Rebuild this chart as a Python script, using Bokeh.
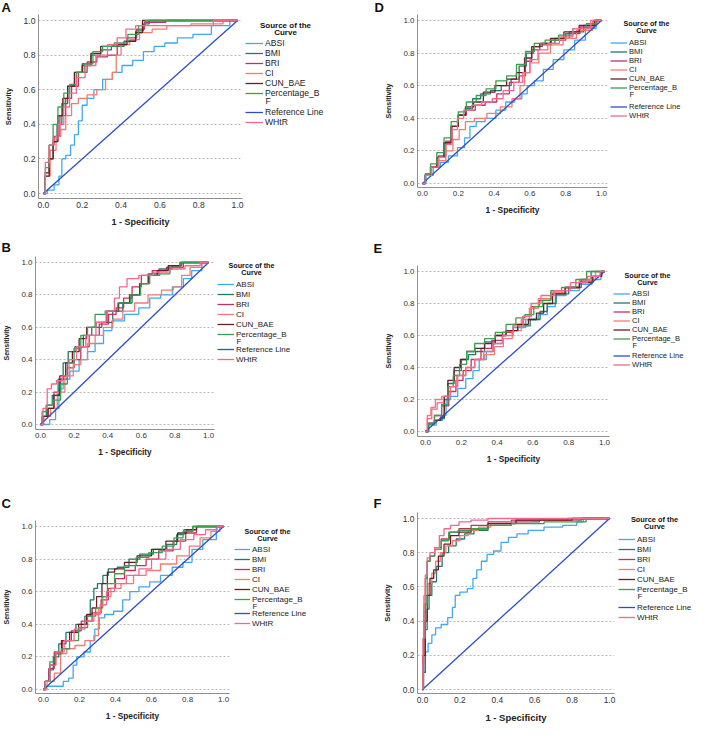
from bokeh.plotting import figure
from bokeh.layouts import row, column
from bokeh.models import Legend, LegendItem, Label, Range1d, FixedTicker, PrintfTickFormatter
from bokeh.core.properties import value
from bokeh.embed import file_html
from bokeh.resources import INLINE

FONT = "Liberation Sans"

SERIES = ["ABSI", "BMI", "BRI", "CI", "CUN_BAE", "Percentage_BF", "Reference Line", "WHtR"]
LEGEND_LABELS = ["ABSI", "BMI", "BRI", "CI", "CUN_BAE", "Percentage_B", "Reference Line", "WHtR"]
LEGEND_WRAP = "F"
SERIES_COLORS = ["#42a8f0", "#1f7a6d", "#c3315f", "#f47a72", "#6b1d27", "#3c9f4b", "#2c4fc7", "#f2688f"]
TICKS = [0.0, 0.2, 0.4, 0.6, 0.8, 1.0]
PANEL_LETTERS = ["A", "B", "C", "D", "E", "F"]
X_AXIS_TITLE = "1 - Specificity"
Y_AXIS_TITLE = "Sensitivity"
LEGEND_TITLE = ["Source of the", "Curve"]

REF_FPR = [0.0, 1.0]
REF_TPR = [0.0, 1.0]
# legend swatch renderers live outside the visible range of the legend strip
SWATCH_X = [-2.0, -1.0]
SWATCH_Y = [-2.0, -1.0]

# ---------------- Panel A ----------------
A_ABSI_FPR = [0, .04, .07, .09, .10, .13, .15, .17, .19, .21, .24, .28, .33, .38, .43, .49, .54, .60, .65, .73, .81, .92, 1.0]
A_ABSI_TPR = [0, .02, .05, .10, .20, .22, .28, .34, .42, .51, .55, .60, .66, .70, .74, .77, .82, .85, .87, .90, .92, .97, 1.0]
A_BMI_FPR = [0, .02, .04, .06, .08, .11, .14, .18, .22, .27, .32, .38, .45, .50, .53, .56, 1.0]
A_BMI_TPR = [0, .12, .20, .30, .40, .52, .62, .70, .75, .80, .83, .85, .88, .94, .98, 1.0, 1.0]
A_BRI_FPR = [0, .02, .04, .07, .10, .13, .16, .20, .25, .30, .36, .40, .46, .50, .54, .72, 1.0]
A_BRI_TPR = [0, .12, .28, .33, .45, .55, .62, .70, .76, .79, .80, .86, .90, .95, .99, 1.0, 1.0]
A_CI_FPR = [0, .02, .05, .08, .10, .13, .16, .20, .25, .30, .34, .37, .38, .42, .47, .52, .60, .67, .85, 1.0]
A_CI_TPR = [0, .10, .25, .33, .37, .45, .52, .55, .57, .60, .66, .70, .80, .86, .89, .93, .95, .97, .98, 1.0]
A_CUN_BAE_FPR = [0, .02, .04, .06, .09, .11, .14, .18, .22, .27, .32, .40, .46, .49, .53, 1.0]
A_CUN_BAE_TPR = [0, .10, .20, .30, .45, .55, .62, .70, .74, .81, .85, .86, .88, .93, 1.0, 1.0]
A_PBF_FPR = [0, .02, .04, .06, .09, .12, .15, .19, .23, .28, .33, .40, .47, .51, .54, 1.0]
A_PBF_TPR = [0, .15, .28, .40, .50, .58, .63, .70, .75, .82, .85, .87, .92, .97, 1.0, 1.0]
A_WHTR_FPR = [0, .02, .04, .06, .09, .12, .15, .19, .24, .30, .36, .40, .45, .50, .60, .75, 1.0]
A_WHTR_TPR = [0, .18, .28, .32, .40, .50, .58, .67, .74, .80, .86, .90, .95, .97, .97, .97, 1.0]

# ---------------- Panel B ----------------
B_ABSI_FPR = [0, .03, .08, .10, .12, .15, .20, .26, .30, .35, .40, .45, .55, .62, .68, .75, .82, .88, .92, 1.0]
B_ABSI_TPR = [0, .00, .03, .10, .22, .28, .33, .40, .45, .50, .58, .64, .68, .72, .78, .80, .85, .90, .95, 1.0]
B_BMI_FPR = [0, .02, .05, .09, .12, .15, .18, .23, .28, .33, .40, .46, .52, .57, .62, .66, .75, .82, .86, 1.0]
B_BMI_TPR = [0, .05, .12, .18, .28, .38, .45, .48, .55, .60, .63, .70, .75, .80, .87, .93, .96, .98, 1.0, 1.0]
B_BRI_FPR = [0, .03, .06, .10, .14, .18, .22, .26, .32, .38, .43, .47, .52, .57, .63, .70, .80, .90, 1.0]
B_BRI_TPR = [0, .05, .10, .20, .28, .35, .40, .48, .55, .62, .68, .72, .78, .85, .92, .95, .97, 1.0, 1.0]
B_CI_FPR = [0, .04, .08, .12, .17, .22, .26, .30, .35, .40, .46, .52, .60, .68, .76, .82, .86, .92, 1.0]
B_CI_TPR = [0, .05, .10, .20, .30, .37, .40, .50, .55, .60, .65, .70, .75, .80, .83, .85, .92, .97, 1.0]
B_CUN_BAE_FPR = [0, .03, .06, .10, .13, .17, .21, .25, .30, .36, .43, .50, .56, .62, .67, .72, .80, .86, 1.0]
B_CUN_BAE_TPR = [0, .05, .10, .18, .30, .38, .45, .53, .60, .63, .70, .75, .80, .87, .92, .95, .98, 1.0, 1.0]
B_PBF_FPR = [0, .02, .05, .10, .14, .18, .22, .26, .30, .35, .42, .50, .57, .62, .68, .74, .80, .86, 1.0]
B_PBF_TPR = [0, .08, .12, .15, .25, .38, .47, .55, .60, .68, .70, .75, .80, .87, .92, .93, .97, 1.0, 1.0]
B_WHTR_FPR = [0, .03, .05, .08, .11, .15, .19, .24, .30, .36, .42, .46, .48, .55, .62, .72, .82, .90, 1.0]
B_WHTR_TPR = [0, .10, .22, .25, .27, .30, .40, .48, .55, .63, .70, .78, .85, .90, .92, .94, .96, .98, 1.0]

# ---------------- Panel C ----------------
C_ABSI_FPR = [0, .03, .10, .12, .16, .17, .20, .25, .27, .30, .32, .36, .42, .46, .50, .56, .62, .68, .75, .80, .85, .92, 1.0]
C_ABSI_TPR = [0, .02, .02, .05, .07, .15, .20, .23, .30, .37, .44, .46, .48, .55, .60, .63, .66, .70, .75, .78, .86, .92, 1.0]
C_BMI_FPR = [0, .02, .04, .07, .10, .15, .21, .25, .27, .29, .31, .35, .37, .45, .50, .57, .65, .72, .76, .80, .86, 1.0]
C_BMI_TPR = [0, .05, .12, .20, .28, .35, .40, .45, .55, .62, .65, .70, .74, .75, .80, .83, .86, .89, .95, .98, 1.0, 1.0]
C_BRI_FPR = [0, .02, .04, .08, .13, .18, .24, .30, .34, .38, .42, .48, .54, .60, .68, .76, .82, .88, 1.0]
C_BRI_TPR = [0, .05, .13, .23, .30, .36, .42, .47, .55, .62, .68, .73, .76, .80, .85, .91, .96, 1.0, 1.0]
C_CI_FPR = [0, .04, .08, .11, .15, .20, .26, .30, .31, .35, .40, .46, .54, .60, .70, .78, .84, .90, .96, 1.0]
C_CI_TPR = [0, .05, .10, .22, .25, .27, .30, .33, .50, .57, .62, .65, .70, .73, .77, .82, .88, .93, .97, 1.0]
C_CUN_BAE_FPR = [0, .02, .05, .08, .12, .17, .22, .26, .28, .31, .34, .37, .42, .48, .56, .64, .72, .77, .82, .88, 1.0]
C_CUN_BAE_TPR = [0, .05, .15, .22, .30, .35, .40, .46, .50, .57, .65, .72, .74, .78, .82, .86, .91, .96, .98, 1.0, 1.0]
C_PBF_FPR = [0, .02, .05, .08, .12, .17, .22, .27, .31, .34, .37, .42, .48, .55, .62, .70, .75, .80, .86, 1.0]
C_PBF_TPR = [0, .05, .17, .22, .25, .30, .38, .45, .50, .57, .65, .71, .76, .81, .84, .88, .93, .97, 1.0, 1.0]
C_WHTR_FPR = [0, .02, .05, .09, .14, .20, .26, .30, .33, .37, .42, .50, .56, .64, .72, .80, .87, .93, 1.0]
C_WHTR_TPR = [0, .05, .15, .23, .30, .37, .42, .46, .52, .60, .65, .70, .74, .80, .86, .92, .95, .98, 1.0]

# ---------------- Panel D ----------------
D_ABSI_FPR = [0, .04, .08, .12, .17, .22, .25, .28, .32, .38, .44, .49, .54, .57, .60, .65, .70, .76, .82, .88, .94, 1.0]
D_ABSI_TPR = [0, .05, .10, .13, .17, .22, .28, .35, .38, .40, .45, .50, .52, .55, .60, .63, .70, .76, .82, .88, .95, 1.0]
D_BMI_FPR = [0, .03, .06, .10, .14, .18, .22, .26, .30, .35, .41, .47, .52, .56, .60, .64, .70, .78, .86, .94, 1.0]
D_BMI_TPR = [0, .05, .10, .16, .25, .35, .42, .46, .52, .55, .57, .60, .64, .72, .80, .84, .86, .89, .93, .97, 1.0]
D_BRI_FPR = [0, .03, .07, .11, .15, .18, .22, .27, .32, .38, .45, .52, .56, .59, .63, .68, .76, .84, .92, 1.0]
D_BRI_TPR = [0, .05, .10, .17, .26, .35, .42, .45, .48, .50, .55, .62, .66, .75, .82, .85, .88, .92, .96, 1.0]
D_CI_FPR = [0, .03, .07, .11, .15, .19, .22, .26, .32, .40, .47, .53, .56, .58, .62, .68, .75, .82, .90, 1.0]
D_CI_TPR = [0, .05, .10, .14, .20, .27, .33, .38, .40, .43, .47, .52, .60, .68, .74, .80, .85, .89, .94, 1.0]
D_CUN_BAE_FPR = [0, .03, .06, .10, .14, .18, .22, .26, .31, .37, .44, .50, .55, .59, .63, .68, .75, .83, .92, 1.0]
D_CUN_BAE_TPR = [0, .05, .10, .16, .25, .35, .42, .47, .50, .56, .60, .64, .68, .77, .84, .86, .89, .93, .97, 1.0]
D_PBF_FPR = [0, .03, .06, .10, .14, .18, .22, .27, .33, .38, .44, .50, .55, .60, .65, .72, .80, .88, .95, 1.0]
D_PBF_TPR = [0, .06, .12, .19, .28, .38, .44, .50, .54, .58, .63, .66, .73, .81, .86, .88, .91, .95, .98, 1.0]
D_WHTR_FPR = [0, .03, .07, .11, .15, .18, .21, .25, .30, .36, .42, .48, .54, .58, .62, .67, .73, .80, .88, 1.0]
D_WHTR_TPR = [0, .05, .10, .16, .24, .33, .40, .45, .48, .50, .52, .57, .62, .68, .76, .82, .86, .90, .95, 1.0]

# ---------------- Panel E ----------------
E_ABSI_FPR = [0, .04, .08, .11, .12, .16, .20, .25, .28, .32, .36, .40, .46, .52, .60, .66, .70, .75, .82, .90, .96, 1.0]
E_ABSI_TPR = [0, .04, .07, .10, .20, .22, .27, .33, .38, .45, .50, .55, .62, .65, .70, .73, .78, .85, .88, .92, .95, 1.0]
E_BMI_FPR = [0, .03, .07, .10, .11, .14, .18, .22, .26, .30, .36, .42, .48, .55, .62, .66, .70, .76, .84, .90, .95, 1.0]
E_BMI_TPR = [0, .05, .07, .08, .20, .30, .38, .45, .48, .50, .56, .60, .63, .66, .70, .75, .80, .86, .90, .95, 1.0, 1.0]
E_BRI_FPR = [0, .03, .07, .11, .15, .19, .23, .28, .34, .40, .46, .52, .57, .61, .66, .74, .82, .90, .96, 1.0]
E_BRI_TPR = [0, .05, .10, .16, .25, .32, .38, .45, .52, .57, .62, .67, .72, .78, .82, .87, .90, .94, .97, 1.0]
E_CI_FPR = [0, .02, .04, .07, .11, .15, .20, .25, .30, .36, .41, .46, .51, .56, .60, .66, .74, .82, .90, 1.0]
E_CI_TPR = [0, .10, .15, .20, .22, .28, .35, .40, .45, .48, .53, .58, .63, .70, .77, .83, .87, .90, .95, 1.0]
E_CUN_BAE_FPR = [0, .03, .07, .10, .11, .14, .18, .21, .25, .30, .36, .42, .48, .55, .60, .64, .68, .74, .82, .90, .97, 1.0]
E_CUN_BAE_TPR = [0, .05, .07, .09, .22, .32, .40, .45, .50, .52, .55, .60, .63, .67, .70, .74, .80, .86, .90, .93, .97, 1.0]
E_PBF_FPR = [0, .03, .07, .11, .14, .17, .21, .25, .30, .36, .42, .48, .53, .58, .63, .68, .72, .80, .88, .92, 1.0]
E_PBF_TPR = [0, .05, .10, .17, .28, .35, .42, .50, .55, .58, .62, .67, .71, .73, .78, .82, .88, .90, .95, 1.0, 1.0]
E_WHTR_FPR = [0, .02, .05, .08, .12, .16, .20, .25, .30, .35, .40, .46, .52, .57, .61, .68, .76, .86, .95, 1.0]
E_WHTR_TPR = [0, .08, .14, .18, .22, .28, .35, .40, .45, .50, .55, .60, .66, .72, .80, .85, .88, .93, .97, 1.0]

# ---------------- Panel F ----------------
F_ABSI_FPR = [0, .01, .02, .04, .06, .08, .12, .15, .17, .18, .22, .26, .28, .30, .33, .36, .40, .44, .48, .53, .60, .70, .80, .85, .87, 1.0]
F_ABSI_TPR = [0, .10, .22, .27, .32, .36, .38, .42, .48, .55, .57, .59, .65, .70, .75, .79, .81, .86, .89, .91, .93, .95, .96, .98, 1.0, 1.0]
F_BMI_FPR = [0, .01, .02, .03, .04, .06, .09, .12, .16, .20, .25, .30, .40, .55, .70, 1.0]
F_BMI_TPR = [0, .10, .35, .47, .55, .63, .72, .80, .84, .88, .91, .93, .96, .98, .99, 1.0]
F_BRI_FPR = [0, .005, .01, .02, .03, .05, .08, .12, .17, .22, .30, .40, .55, 1.0]
F_BRI_TPR = [0, .20, .45, .65, .75, .78, .83, .88, .92, .94, .96, .98, .99, 1.0]
F_CI_FPR = [0, .005, .01, .02, .04, .06, .08, .11, .14, .18, .22, .27, .33, .40, .50, .65, 1.0]
F_CI_TPR = [0, .15, .50, .55, .62, .68, .75, .80, .84, .87, .90, .93, .95, .97, .98, .99, 1.0]
F_CUN_BAE_FPR = [0, .01, .02, .03, .05, .07, .10, .13, .17, .22, .30, .40, .60, 1.0]
F_CUN_BAE_TPR = [0, .20, .40, .55, .65, .70, .78, .85, .90, .92, .94, .97, .99, 1.0]
F_PBF_FPR = [0, .01, .02, .03, .05, .08, .12, .16, .22, .30, .40, .55, .75, 1.0]
F_PBF_TPR = [0, .30, .50, .75, .78, .82, .87, .92, .93, .94, .96, .97, .98, 1.0]
F_WHTR_FPR = [0, .005, .01, .02, .03, .05, .08, .10, .13, .17, .22, .30, .40, 1.0]
F_WHTR_TPR = [0, .30, .55, .67, .77, .80, .83, .90, .94, .96, .98, .99, 1.0, 1.0]

PANEL_DATA = {
    "A": [(A_ABSI_FPR, A_ABSI_TPR), (A_BMI_FPR, A_BMI_TPR), (A_BRI_FPR, A_BRI_TPR), (A_CI_FPR, A_CI_TPR),
          (A_CUN_BAE_FPR, A_CUN_BAE_TPR), (A_PBF_FPR, A_PBF_TPR), (REF_FPR, REF_TPR), (A_WHTR_FPR, A_WHTR_TPR)],
    "B": [(B_ABSI_FPR, B_ABSI_TPR), (B_BMI_FPR, B_BMI_TPR), (B_BRI_FPR, B_BRI_TPR), (B_CI_FPR, B_CI_TPR),
          (B_CUN_BAE_FPR, B_CUN_BAE_TPR), (B_PBF_FPR, B_PBF_TPR), (REF_FPR, REF_TPR), (B_WHTR_FPR, B_WHTR_TPR)],
    "C": [(C_ABSI_FPR, C_ABSI_TPR), (C_BMI_FPR, C_BMI_TPR), (C_BRI_FPR, C_BRI_TPR), (C_CI_FPR, C_CI_TPR),
          (C_CUN_BAE_FPR, C_CUN_BAE_TPR), (C_PBF_FPR, C_PBF_TPR), (REF_FPR, REF_TPR), (C_WHTR_FPR, C_WHTR_TPR)],
    "D": [(D_ABSI_FPR, D_ABSI_TPR), (D_BMI_FPR, D_BMI_TPR), (D_BRI_FPR, D_BRI_TPR), (D_CI_FPR, D_CI_TPR),
          (D_CUN_BAE_FPR, D_CUN_BAE_TPR), (D_PBF_FPR, D_PBF_TPR), (REF_FPR, REF_TPR), (D_WHTR_FPR, D_WHTR_TPR)],
    "E": [(E_ABSI_FPR, E_ABSI_TPR), (E_BMI_FPR, E_BMI_TPR), (E_BRI_FPR, E_BRI_TPR), (E_CI_FPR, E_CI_TPR),
          (E_CUN_BAE_FPR, E_CUN_BAE_TPR), (E_PBF_FPR, E_PBF_TPR), (REF_FPR, REF_TPR), (E_WHTR_FPR, E_WHTR_TPR)],
    "F": [(F_ABSI_FPR, F_ABSI_TPR), (F_BMI_FPR, F_BMI_TPR), (F_BRI_FPR, F_BRI_TPR), (F_CI_FPR, F_CI_TPR),
          (F_CUN_BAE_FPR, F_CUN_BAE_TPR), (F_PBF_FPR, F_PBF_TPR), (REF_FPR, REF_TPR), (F_WHTR_FPR, F_WHTR_TPR)],
}

# Layout in page pixels. col = (left, right) of the column; let = letter strip (top, bottom);
# plot = (top, bottom) of the plot strip; frame = (L, T, R, B); xpx / ypx = pixels of data 0/1.
LAYOUT = {
    "A": dict(col=(8, 354), let=(8, 21), plot=(21, 240), frame=(42, 22, 250, 206), xpx=(47, 245), ypx=(28, 201),
              letter=(9, 14.5), title=(293, 33, 40), item0=51, item_last=130, lh=10, gx=253, gw=18,
              lfs=8.6, tfs=8.0, tick=8.6, xl=9.0, yl=7.5),
    "B": dict(col=(8, 354), let=(240, 262), plot=(262, 480), frame=(42, 264, 222, 437), xpx=(47, 216), ypx=(270, 432),
              letter=(9, 255), title=(259, 273, 280), item0=292, item_last=367, lh=10, gx=225, gw=17,
              lfs=8.0, tfs=7.2, tick=8.0, xl=8.3, yl=7.0),
    "C": dict(col=(8, 354), let=(480, 526), plot=(526, 733), frame=(42, 528, 237, 701), xpx=(50, 231), ypx=(534, 697),
              letter=(9, 511), title=(275, 539, 546), item0=557, item_last=631, lh=10, gx=242, gw=16,
              lfs=8.0, tfs=7.2, tick=8.0, xl=8.3, yl=7.0),
    "D": dict(col=(354, 700), let=(8, 21), plot=(21, 240), frame=(425, 22, 615, 195), xpx=(430, 609), ypx=(28, 191),
              letter=(382, 14.5), title=(654, 31, 38), item0=50, item_last=123, lh=9, gx=618, gw=17,
              lfs=7.6, tfs=7.2, tick=8.0, xl=8.4, yl=7.0),
    "E": dict(col=(354, 700), let=(240, 266), plot=(266, 480), frame=(425, 273, 617, 444), xpx=(433, 612), ypx=(279, 439),
              letter=(381, 256), title=(655, 283, 290), item0=301, item_last=372, lh=9, gx=621, gw=17,
              lfs=7.6, tfs=7.2, tick=8.0, xl=8.3, yl=7.0),
    "F": dict(col=(354, 700), let=(480, 518), plot=(518, 733), frame=(425, 520, 622, 701), xpx=(430, 617), ypx=(526, 697),
              letter=(381, 511), title=(662, 527, 534), item0=547, item_last=625, lh=10, gx=626, gw=17,
              lfs=8.0, tfs=7.4, tick=8.4, xl=9.5, yl=7.5),
}

LABEL_STANDOFF = 2


def bare_figure(width, height, top=0, bottom=0):
    f = figure(width=width, height=height, x_range=Range1d(0, 1), y_range=Range1d(0, 1),
               output_backend="svg", toolbar_location=None,
               x_axis_location=None, y_axis_location=None,
               min_border_left=0, min_border_right=0, min_border_top=top, min_border_bottom=bottom)
    f.grid.visible = False
    f.outline_line_color = None
    f.background_fill_color = "white"
    f.border_fill_color = "white"
    return f


def make_panel(letter):
    c = LAYOUT[letter]
    cl, cr = c["col"]
    lt, lb = c["let"]
    pt, pb = c["plot"]
    L, T, R, B = c["frame"]
    x0, x1 = c["xpx"]
    y1, y0 = c["ypx"]

    # ---- letter strip ----
    lf = bare_figure(cr - cl, lb - lt)
    lx, ly = c["letter"]
    lf.add_layout(Label(x=lx - cl, y=lb - ly, x_units="screen", y_units="screen", text=letter,
                        text_font=FONT, text_font_style="bold", text_font_size="13px",
                        text_align="left", text_baseline="middle", text_color="#111111"))

    # ---- ROC plot ----
    pw = R + 2 - cl
    p = figure(width=pw, height=pb - pt,
               x_range=Range1d((L - x0) / (x1 - x0), (R - x0) / (x1 - x0)),
               y_range=Range1d((y0 - B) / (y0 - y1), (y0 - T) / (y0 - y1)),
               output_backend="svg", toolbar_location=None,
               min_border_left=L - cl, min_border_top=T - pt,
               min_border_right=2, min_border_bottom=pb - B)
    p.outline_line_color = None
    p.background_fill_color = "white"
    p.border_fill_color = "white"

    for ax in (p.xaxis[0], p.yaxis[0]):
        ax.ticker = FixedTicker(ticks=TICKS)
        ax.formatter = PrintfTickFormatter(format="%.1f")
        ax.axis_line_color = "#8f8f8f"
        ax.axis_line_width = 1
        ax.major_tick_line_color = None
        ax.minor_tick_line_color = None
        ax.major_tick_out = 0
        ax.major_tick_in = 0
        ax.minor_tick_out = 0
        ax.minor_tick_in = 0
        ax.major_label_text_font = FONT
        ax.major_label_text_font_size = f"{c['tick']}px"
        ax.major_label_text_color = "#333333"
        ax.axis_label_text_font = FONT
        ax.axis_label_text_font_style = "bold"
        ax.axis_label_text_color = "#222222"
        ax.major_label_standoff = 3

    p.xaxis.axis_label = X_AXIS_TITLE
    p.xaxis.axis_label_text_font_size = f"{c['xl']}px"
    p.xaxis.axis_label_standoff = 6
    p.yaxis.axis_label = Y_AXIS_TITLE
    p.yaxis.axis_label_text_font_size = f"{c['yl']}px"
    p.yaxis.axis_label_standoff = 8

    p.xgrid.visible = False
    p.ygrid.grid_line_color = "#b8b8b8"
    p.ygrid.grid_line_dash = "2 2"
    p.ygrid.grid_line_width = 1

    for (fpr, tpr), name, col in zip(PANEL_DATA[letter], SERIES, SERIES_COLORS):
        if name == "Reference Line":
            p.line(fpr, tpr, line_color=col, line_width=1.3)
        else:
            p.step(fpr, tpr, mode="center", line_color=col, line_width=1.3)

    # ---- legend strip (same top/bottom borders as the plot) ----
    gl = R + 2
    g = bare_figure(cr - gl, pb - pt, top=T - pt, bottom=pb - B)
    items = []
    for lab, col in zip(LEGEND_LABELS, SERIES_COLORS):
        r = g.line(x=SWATCH_X, y=SWATCH_Y, line_color=col, line_width=1.3)
        items.append(LegendItem(label=value(lab), renderers=[r]))

    lh = c["lh"]
    top1 = c["item0"] - lh / 2
    top2 = c["item_last"] - lh - lh / 2
    for its, top in ((items[:6], top1), (items[6:], top2)):
        h = len(its) * lh
        g.add_layout(Legend(items=its, location=(c["gx"] - gl, B - top - h), margin=0, padding=0,
                            label_text_font=FONT, label_text_font_size=f"{c['lfs']}px",
                            label_text_color="#222222", label_standoff=LABEL_STANDOFF,
                            label_height=lh, glyph_height=lh, glyph_width=c["gw"],
                            spacing=0, border_line_color=None, background_fill_alpha=0))

    wrap_y = c["item0"] + 5 * lh + 7
    g.add_layout(Label(x=c["gx"] + c["gw"] + LABEL_STANDOFF - gl, y=B - wrap_y,
                       x_units="screen", y_units="screen", text=LEGEND_WRAP,
                       text_font=FONT, text_font_size=f"{c['lfs']}px", text_color="#222222",
                       text_align="left", text_baseline="middle"))
    tx, t1, t2 = c["title"]
    for txt, ty in zip(LEGEND_TITLE, (t1, t2)):
        g.add_layout(Label(x=tx - gl, y=B - ty, x_units="screen", y_units="screen", text=txt,
                           text_font=FONT, text_font_style="bold", text_font_size=f"{c['tfs']}px",
                           text_align="center", text_baseline="middle", text_color="#111111"))

    return [lf, row(p, g)]


left_parts, right_parts = [], []
for k in ["A", "B", "C"]:
    left_parts += make_panel(k)
for k in ["D", "E", "F"]:
    right_parts += make_panel(k)

layout = row(column(*left_parts), column(*right_parts))

open("out.html", "w").write(file_html(layout, INLINE))
